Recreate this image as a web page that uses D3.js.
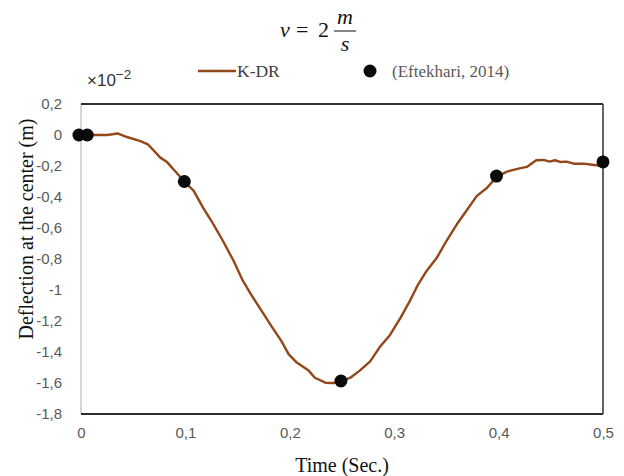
<!DOCTYPE html>
<html>
<head>
<meta charset="utf-8">
<script src="https://cdn.jsdelivr.net/npm/d3@7"></script>
<style>
  body { margin: 0; background: #fff; }
</style>
</head>
<body>
<div id="chart"></div>
<script>
// K-DR curve (time in s, deflection in 1e-2 m)
const kdrTime = [0, 0.007, 0.025, 0.035, 0.044, 0.057, 0.064, 0.076, 0.082, 0.09, 0.099,
  0.108, 0.117, 0.125, 0.136, 0.146, 0.155, 0.163, 0.173, 0.183, 0.192, 0.199, 0.207,
  0.218, 0.224, 0.234, 0.242, 0.249, 0.258, 0.267, 0.277, 0.286, 0.296, 0.306, 0.315,
  0.323, 0.331, 0.341, 0.35, 0.36, 0.369, 0.379, 0.389, 0.398, 0.408, 0.42, 0.427,
  0.436, 0.443, 0.449, 0.454, 0.459, 0.465, 0.472, 0.481, 0.488, 0.499];
const kdrDefl = [0, 0, 0, 0.01, -0.013, -0.039, -0.06, -0.146, -0.172, -0.232, -0.30,
  -0.36, -0.47, -0.555, -0.684, -0.81, -0.94, -1.03, -1.135, -1.24, -1.33, -1.415, -1.47,
  -1.52, -1.566, -1.598, -1.60, -1.59, -1.566, -1.52, -1.46, -1.37, -1.29, -1.18, -1.07,
  -0.963, -0.877, -0.79, -0.684, -0.576, -0.49, -0.394, -0.34, -0.27, -0.236, -0.215, -0.206,
  -0.163, -0.161, -0.172, -0.163, -0.174, -0.172, -0.185, -0.185, -0.19, -0.2];

// Eftekhari, 2014 reference points
const refTime = [-0.002, 0.006, 0.099, 0.249, 0.398, 0.5];
const refDefl = [0, 0, -0.30, -1.587, -0.265, -0.174];

const xTicks = [0, 0.1, 0.2, 0.3, 0.4, 0.5];
const yTicks = [0.2, 0, -0.2, -0.4, -0.6, -0.8, -1, -1.2, -1.4, -1.6, -1.8];

const width = 624, height = 476;
const margin = {top: 104, right: 21, bottom: 62, left: 81};
const lineColor = '#94471a';
const serif = '"Liberation Serif", "Times New Roman", serif';
const sans = '"Liberation Sans", Arial, sans-serif';

let svg = d3.select('#chart')
  .append('svg')
  .attr('width', width)
  .attr('height', height);

let x = d3.scaleLinear()
  .domain([0, 0.5])
  .range([margin.left, width - margin.right]);

let y = d3.scaleLinear()
  .domain([-1.8, 0.2])
  .range([height - margin.bottom, margin.top]);

let fmt = d => d3.format('')(d).replace('.', ',').replace('−', '-');

// Frame
svg.append('line')
  .attr('x1', x(0)).attr('x2', x(0))
  .attr('y1', y(0.2)).attr('y2', y(-1.8))
  .attr('stroke', '#c8c8c8').attr('stroke-width', 1.5);
svg.append('line')
  .attr('x1', x(0)).attr('x2', x(0.5))
  .attr('y1', y(0.2)).attr('y2', y(0.2))
  .attr('stroke', '#303030').attr('stroke-width', 2);
svg.append('line')
  .attr('x1', x(0)).attr('x2', x(0.5))
  .attr('y1', y(-1.8)).attr('y2', y(-1.8))
  .attr('stroke', '#303030').attr('stroke-width', 2);
svg.append('line')
  .attr('x1', x(0.5)).attr('x2', x(0.5))
  .attr('y1', y(0.2)).attr('y2', y(-1.8))
  .attr('stroke', '#303030').attr('stroke-width', 1.5);

// Axes (labels only)
let xAxis = svg.append('g')
  .attr('transform', 'translate(0,' + (y(-1.8) + 10) + ')')
  .call(d3.axisBottom(x).tickValues(xTicks).tickFormat(fmt).tickSize(0));
xAxis.select('.domain').remove();
xAxis.selectAll('text')
  .attr('font-family', sans).attr('font-size', 15).attr('fill', '#595959');

let yAxis = svg.append('g')
  .attr('transform', 'translate(' + (x(0) - 16) + ',0)')
  .call(d3.axisLeft(y).tickValues(yTicks).tickFormat(fmt).tickSize(0));
yAxis.select('.domain').remove();
yAxis.selectAll('text')
  .attr('font-family', sans).attr('font-size', 15).attr('fill', '#595959');

// K-DR line
let line = d3.line()
  .x((d, i) => x(kdrTime[i]))
  .y(d => y(d));

svg.append('path')
  .datum(kdrDefl)
  .attr('fill', 'none')
  .attr('stroke', lineColor)
  .attr('stroke-width', 2.4)
  .attr('stroke-linejoin', 'round')
  .attr('d', line);

// Reference dots
svg.selectAll('circle.ref')
  .data(refDefl)
  .enter()
  .append('circle')
  .attr('class', 'ref')
  .attr('r', 6.5)
  .attr('cx', (d, i) => x(refTime[i]))
  .attr('cy', d => y(d))
  .attr('fill', '#0a0a0a');

// Title: v = 2 m/s
let title = svg.append('g').attr('font-family', serif).attr('fill', '#111');
title.append('text').attr('x', 280).attr('y', 37)
  .attr('font-size', 22).attr('font-style', 'italic').text('v');
title.append('text').attr('x', 296).attr('y', 37)
  .attr('font-size', 22).text('=');
title.append('text').attr('x', 318).attr('y', 37)
  .attr('font-size', 22).text('2');
title.append('text').attr('x', 345).attr('y', 24).attr('text-anchor', 'middle')
  .attr('font-size', 22).attr('font-style', 'italic').text('m');
title.append('line').attr('x1', 334).attr('x2', 356).attr('y1', 31).attr('y2', 31)
  .attr('stroke', '#111').attr('stroke-width', 1);
title.append('text').attr('x', 345).attr('y', 51).attr('text-anchor', 'middle')
  .attr('font-size', 22).attr('font-style', 'italic').text('s');

// Legend
svg.append('line')
  .attr('x1', 198).attr('x2', 236).attr('y1', 71).attr('y2', 71)
  .attr('stroke', lineColor).attr('stroke-width', 2.4);
svg.append('text').attr('x', 237).attr('y', 77)
  .attr('font-family', serif).attr('font-size', 17.5).attr('fill', '#404040').text('K-DR');
svg.append('circle').attr('cx', 370).attr('cy', 71).attr('r', 6.5).attr('fill', '#0a0a0a');
svg.append('text').attr('x', 392).attr('y', 77)
  .attr('font-family', serif).attr('font-size', 17).attr('fill', '#595959').text('(Eftekhari, 2014)');

// Exponent label
let expo = svg.append('text').attr('x', 87).attr('y', 86)
  .attr('font-family', sans).attr('font-size', 17).attr('fill', '#333');
expo.append('tspan').text('×10');
expo.append('tspan').attr('dy', -7).attr('font-size', 13.5).text('−2');

// Axis titles
svg.append('text')
  .attr('x', x(0.25)).attr('y', 472)
  .attr('text-anchor', 'middle')
  .attr('font-family', serif).attr('font-size', 20).attr('fill', '#111')
  .text('Time (Sec.)');

svg.append('text')
  .attr('transform', 'translate(33,229) rotate(-90)')
  .attr('text-anchor', 'middle')
  .attr('font-family', serif).attr('font-size', 20).attr('fill', '#111')
  .text('Deflection at the center (m)');
</script>
</body>
</html>
